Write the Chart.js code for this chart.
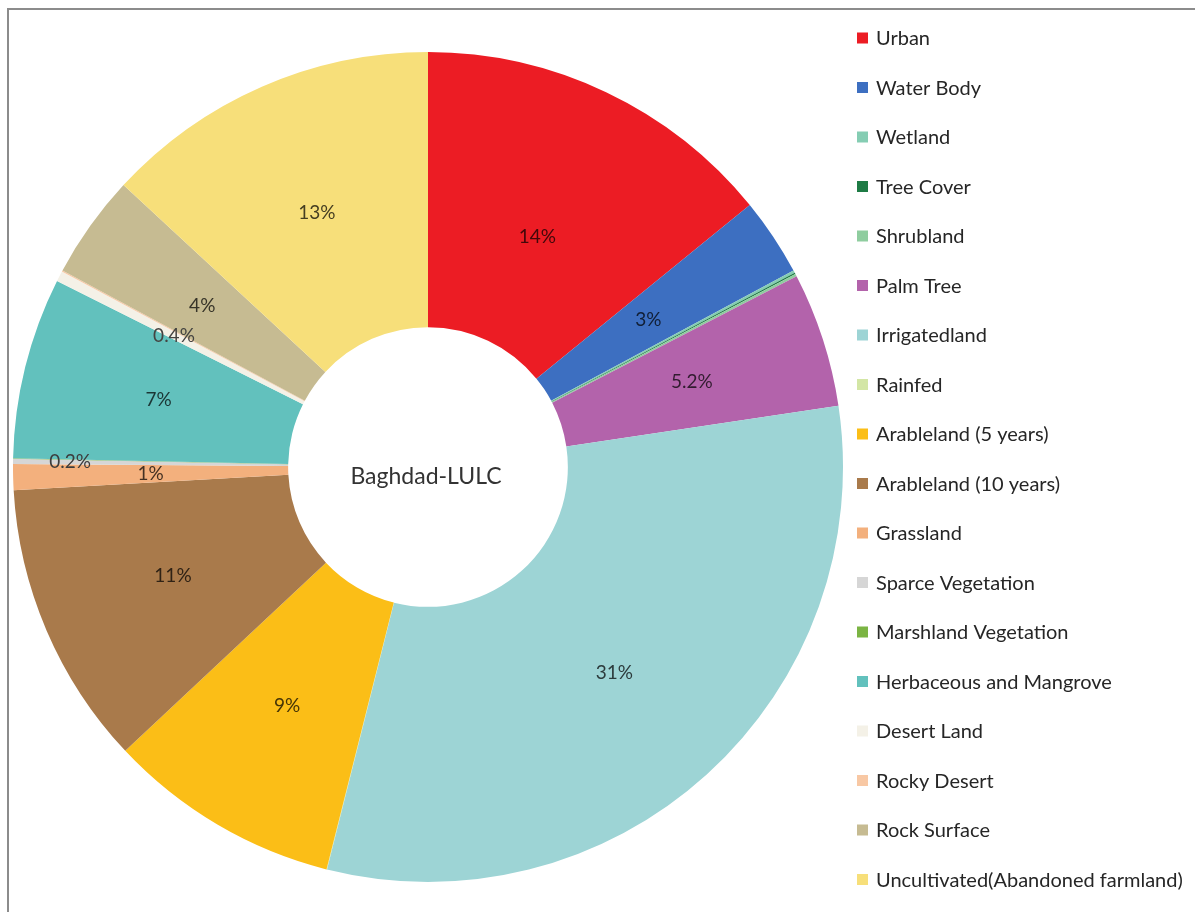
<!DOCTYPE html>
<html>
<head>
<meta charset="utf-8">
<title>Baghdad-LULC</title>
<script src="https://cdn.jsdelivr.net/npm/chart.js@4/dist/chart.umd.min.js"></script>
<style>
  html, body { margin: 0; padding: 0; background: #fff; overflow: hidden; }
  #wrap { position: relative; width: 1195px; height: 912px; }
  #frame {
    position: absolute; left: 7px; top: 8px; width: 1300px; height: 1000px;
    border-top: 2px solid #8c8c8c; border-left: 2px solid #8c8c8c;
    box-sizing: border-box;
  }
  #lulcChart { position: absolute; left: 0; top: 0; }
</style>
</head>
<body>
<div id="wrap">
  <div id="frame"></div>
  <canvas id="lulcChart" width="1195" height="912"></canvas>
</div>
<script>
// land use / land cover classes, in ring order (clockwise from 12 o'clock)
const classes = [
  "Urban", "Water Body", "Wetland", "Tree Cover", "Shrubland", "Palm Tree",
  "Irrigatedland", "Rainfed", "Arableland (5 years)", "Arableland (10 years)",
  "Grassland", "Sparce Vegetation", "Marshland Vegetation",
  "Herbaceous and Mangrove", "Desert Land", "Rocky Desert", "Rock Surface",
  "Uncultivated(Abandoned farmland)"
];

// share of area, %
const shares = [14, 3, 0.1, 0.05, 0.1, 5.2, 31, 0.02, 9, 11, 1, 0.2, 0.02, 7, 0.4, 0.05, 4, 13];

const classColors = [
  "#ec1c24", "#3d6fc1", "#85cdb3", "#1e7b45", "#8fcd9f", "#b363ab",
  "#9dd4d5", "#d3e6a5", "#fbbe17", "#a97a4b", "#f3b07d", "#d6d6d6",
  "#7bb443", "#62c1bd", "#f4f1e7", "#f8c8a4", "#c6bb92", "#f7df7a"
];

const centerTitle = "Baghdad-LULC";

const FONT = "Lato, 'Noto Sans', sans-serif";

function darken(hex, f) {
  const n = parseInt(hex.slice(1), 16);
  const r = Math.round(((n >> 16) & 255) * f);
  const g = Math.round(((n >> 8) & 255) * f);
  const b = Math.round((n & 255) * f);
  return `rgb(${r}, ${g}, ${b})`;
}

// percentage text on each visible slice
const sliceLabels = {
  id: "sliceLabels",
  afterDatasetsDraw(chart, args, opts) {
    const { ctx } = chart;
    const meta = chart.getDatasetMeta(0);
    ctx.save();
    ctx.font = `19px ${FONT}`;
    ctx.textAlign = "center";
    ctx.textBaseline = "middle";
    meta.data.forEach((arc, i) => {
      const v = shares[i];
      if (v < opts.minValue) return;
      const p = arc.getProps(["startAngle", "endAngle", "innerRadius", "outerRadius", "x", "y"], true);
      const mid = (p.startAngle + p.endAngle) / 2;
      const r = opts.radius[classes[i]] || (p.innerRadius + p.outerRadius) / 2;
      const x = p.x + Math.cos(mid) * r;
      const y = p.y + Math.sin(mid) * r;
      ctx.fillStyle = darken(classColors[i], 0.28);
      ctx.fillText(v + "%", x, y);
    });
    ctx.restore();
  },
};

// title in the hole
const centerText = {
  id: "centerText",
  afterDraw(chart) {
    const { ctx } = chart;
    const arc = chart.getDatasetMeta(0).data[0];
    ctx.save();
    ctx.font = `23px ${FONT}`;
    ctx.fillStyle = "#333";
    ctx.textAlign = "center";
    ctx.textBaseline = "middle";
    ctx.fillText(centerTitle, arc.x - 2, arc.y + 10);
    ctx.restore();
  },
};

// single column legend on the right
const sideLegend = {
  id: "sideLegend",
  afterDraw(chart, args, opts) {
    const { ctx } = chart;
    ctx.save();
    ctx.font = `20px ${FONT}`;
    ctx.textBaseline = "middle";
    classes.forEach((name, i) => {
      const y = opts.top + i * opts.step;
      ctx.fillStyle = classColors[i];
      ctx.fillRect(opts.left, y - 5.5, 11, 11);
      ctx.fillStyle = "#262626";
      ctx.fillText(name, opts.left + 19, y + 1);
    });
    ctx.restore();
  },
};

new Chart(document.getElementById("lulcChart"), {
  type: "doughnut",
  data: {
    labels: classes,
    datasets: [
      {
        data: shares,
        backgroundColor: classColors,
        borderWidth: 0,
      },
    ],
  },
  options: {
    responsive: false,
    animation: false,
    cutout: "33.7%",
    layout: {
      padding: { left: 13, top: 52, right: 352, bottom: 30 },
    },
    plugins: {
      legend: { display: false },
      tooltip: { enabled: false },
      sliceLabels: {
        minValue: 0.2,
        radius: { "Sparce Vegetation": 358, "Urban": 255, "Water Body": 265, "Desert Land": 286 },
      },
      sideLegend: { left: 857, top: 38, step: 49.5 },
    },
  },
  plugins: [sliceLabels, centerText, sideLegend],
});
</script>
</body>
</html>
